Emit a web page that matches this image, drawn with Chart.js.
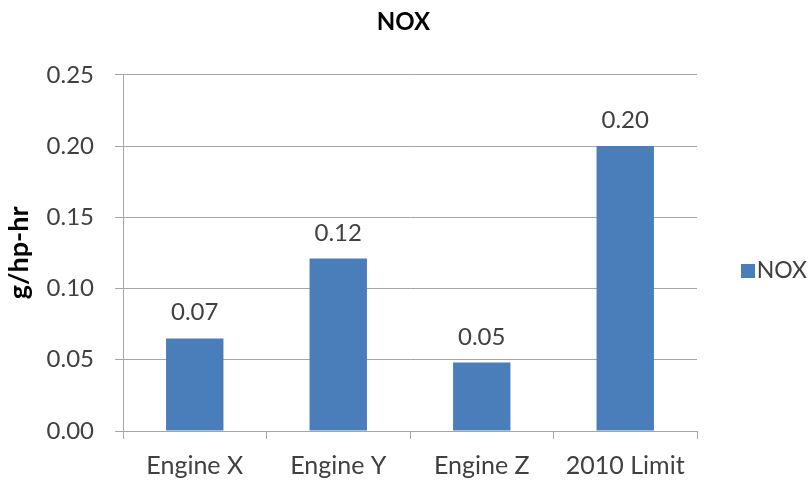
<!DOCTYPE html>
<html>
<head>
<meta charset="utf-8">
<script src="https://cdn.jsdelivr.net/npm/chart.js@4.4.1/dist/chart.umd.min.js"></script>
<style>
  html, body { margin: 0; padding: 0; background: #ffffff; }
  #wrap { width: 810px; height: 484px; }
</style>
</head>
<body>
<div id="wrap"><canvas id="c" width="810" height="484"></canvas></div>
<script>
// NOX emissions per engine, g/hp-hr
const categories = ['Engine X', 'Engine Y', 'Engine Z', '2010 Limit'];
const noxValues = [0.065, 0.121, 0.048, 0.20];
const seriesName = 'NOX';
const yTicks = [0, 0.05, 0.10, 0.15, 0.20, 0.25];

const FONT = 'Lato, "Open Sans", sans-serif';
const BAR_BLUE = '#4A7EBB';
const GRID = '#a6a6a6';
const TEXT = '#404040';

// Writes each bar's value, rounded to two decimals, above the bar
const valueLabels = {
  id: 'valueLabels',
  afterDatasetsDraw(chart) {
    const ctx = chart.ctx;
    const meta = chart.getDatasetMeta(0);
    ctx.save();
    ctx.font = '24px ' + FONT;
    ctx.fillStyle = TEXT;
    ctx.textAlign = 'center';
    ctx.textBaseline = 'alphabetic';
    meta.data.forEach((bar, i) => {
      const v = chart.data.datasets[0].data[i];
      ctx.fillText(v.toFixed(2), bar.x, bar.y - 18);
    });
    ctx.restore();
  }
};

new Chart(document.getElementById('c'), {
  type: 'bar',
  data: {
    labels: categories,
    datasets: [{
      label: seriesName,
      data: noxValues,
      backgroundColor: BAR_BLUE,
      borderWidth: 0,
      categoryPercentage: 1.0,
      barPercentage: 0.4
    }]
  },
  options: {
    responsive: false,
    animation: false,
    layout: { padding: { left: 0, right: 3, top: 0, bottom: 0 } },
    plugins: {
      title: {
        display: true,
        text: 'NOX',
        color: '#000000',
        font: { family: FONT, size: 24, weight: 'bold' },
        padding: { top: 8, bottom: 38 }
      },
      legend: {
        display: true,
        position: 'right',
        maxWidth: 76,
        title: { display: true, text: ' ', font: { size: 10 }, padding: 23 },
        labels: {
          boxWidth: 14,
          boxHeight: 14,
          color: TEXT,
          font: { family: FONT, size: 23 },
          padding: 10,
          textAlign: 'right'
        }
      },
      tooltip: { enabled: false }
    },
    scales: {
      x: {
        afterFit(scale) { scale.height = 53; },
        grid: {
          display: true,
          drawOnChartArea: false,
          drawTicks: true,
          tickLength: 8,
          color: GRID,
          offset: true
        },
        border: { display: true, color: GRID, width: 1 },
        ticks: {
          color: TEXT,
          font: { family: FONT, size: 25 },
          padding: 12,
          maxRotation: 0
        }
      },
      y: {
        min: 0,
        max: 0.25,
        afterFit(scale) { scale.width = 123; },
        afterBuildTicks(scale) {
          scale.ticks = yTicks.map(v => ({ value: v }));
        },
        grid: {
          display: true,
          drawOnChartArea: true,
          drawTicks: true,
          tickLength: 8,
          color: GRID
        },
        border: { display: true, color: GRID, width: 1 },
        ticks: {
          color: TEXT,
          font: { family: FONT, size: 24 },
          padding: 21,
          callback: v => Number(v).toFixed(2)
        },
        title: {
          display: true,
          text: 'g/hp-hr',
          color: '#000000',
          font: { family: FONT, size: 27, weight: 'bold' },
          padding: { top: 3, bottom: 5 }
        }
      },
      // blank strip between the plot and the legend
      gap: {
        type: 'linear',
        position: 'right',
        display: true,
        grid: { display: false },
        border: { display: false },
        ticks: { display: false },
        afterFit(scale) { scale.width = 34; }
      }
    }
  },
  plugins: [valueLabels]
});
</script>
</body>
</html>
